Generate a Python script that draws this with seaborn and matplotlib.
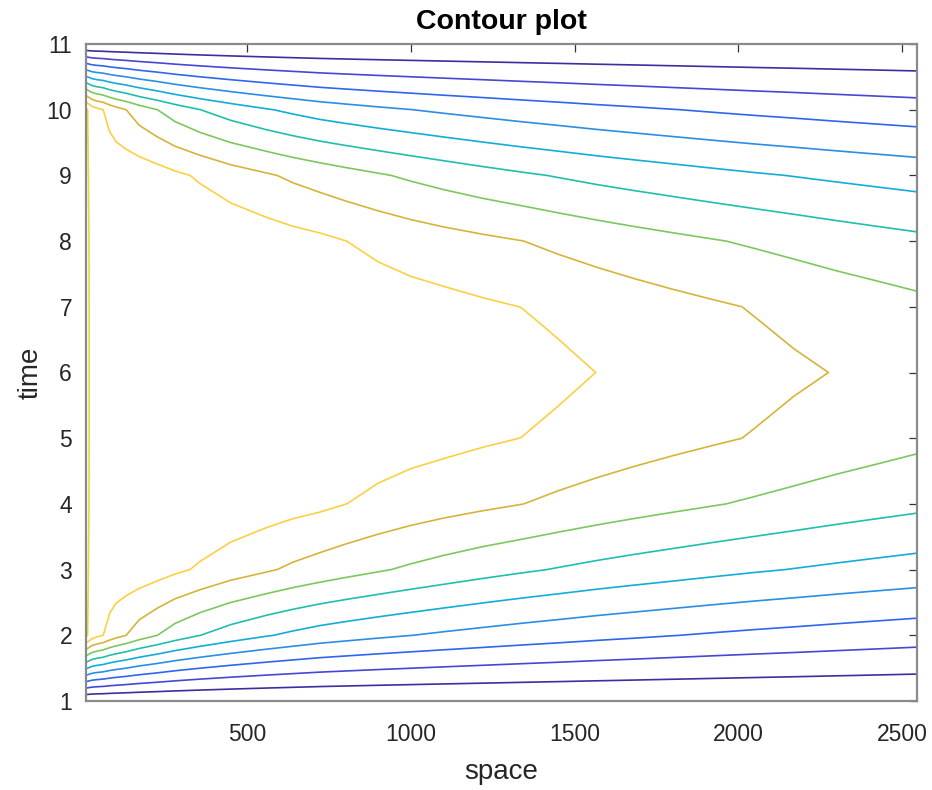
import matplotlib
matplotlib.use("Agg")
import matplotlib.pyplot as plt
import seaborn as sns
import numpy as np

# grid: space nodes (columns) and time nodes (rows)
space = [8, 18, 25, 40, 60, 80, 100, 130, 170, 225, 280, 356, 450, 560, 640, 723,
         800, 900, 1000, 1100, 1220, 1340, 1450, 1570, 1680, 1800, 1920, 2050,
         2170, 2300, 2420, 2546]
time = [1, 2, 3, 4, 5, 6, 7, 8, 9, 10, 11]

# values, one row per time step
u_t01 = [0.0] * 32
u_t02 = [10.2, 9.80, 9.52, 9.24, 9.01, 8.63, 8.34, 8.01, 7.51, 7.01, 6.52, 6.01,
         5.52, 5.07, 4.80, 4.55, 4.38, 4.18, 4.01, 3.85, 3.68, 3.52, 3.39, 3.25,
         3.14, 3.02, 2.91, 2.80, 2.71, 2.61, 2.525, 2.44]
u_t03 = [10.2, 9.93, 9.88, 9.83, 9.78, 9.74, 9.69, 9.66, 9.60, 9.42, 9.18, 8.88,
         8.48, 8.11, 7.83, 7.58, 7.36, 7.10, 6.85, 6.62, 6.36, 6.13, 5.94, 5.74,
         5.58, 5.42, 5.26, 5.10, 4.97, 4.83, 4.71, 4.59]
u_t04 = [10.2, 9.98, 9.97, 9.97, 9.96, 9.96, 9.95, 9.95, 9.94, 9.93, 9.90, 9.85,
         9.72, 9.50, 9.34, 9.20, 9.01, 8.77, 8.56, 8.38, 8.19, 8.01, 7.80, 7.59,
         7.41, 7.23, 7.06, 6.88, 6.71, 6.53, 6.38, 6.23]
u_t05 = [10.2, 9.99, 9.99, 9.98, 9.98, 9.98, 9.97, 9.97, 9.96, 9.95, 9.94, 9.92,
         9.87, 9.80, 9.74, 9.68, 9.60, 9.50, 9.38, 9.28, 9.13, 8.99, 8.80, 8.61,
         8.45, 8.28, 8.12, 7.95, 7.77, 7.57, 7.41, 7.24]
u_t06 = [10.2, 9.99, 9.99, 9.99, 9.99, 9.99, 9.99, 9.98, 9.98, 9.98, 9.98, 9.97,
         9.95, 9.93, 9.90, 9.88, 9.84, 9.80, 9.72, 9.65, 9.53, 9.42, 9.21, 8.99,
         8.81, 8.63, 8.46, 8.28, 8.13, 7.97, 7.83, 7.70]
u_t07 = u_t05
u_t08 = u_t04
u_t09 = u_t03
u_t10 = u_t02
u_t11 = u_t01

levels = [1, 2, 3, 4, 5, 6, 7, 8, 9, 10]
level_colors = ["#3b2f9e", "#4746d6", "#2f66ee", "#2a8ee6", "#12acd9",
                "#1fbfae", "#7cc85e", "#d6b43a", "#fbd044", "#e4dc3c"]

sns.set_theme(style="white")
plt.rcParams["font.family"] = ["Liberation Sans", "DejaVu Sans"]

U = np.array([u_t01, u_t02, u_t03, u_t04, u_t05, u_t06,
              u_t07, u_t08, u_t09, u_t10, u_t11])

fig = plt.figure(figsize=(9.32, 7.90), dpi=100)
ax = fig.add_axes([86 / 932, 89 / 790, 831 / 932, 657 / 790])

ax.contour(space, time, U, levels=levels, colors=level_colors, linewidths=1.2)

ax.set_xlim(8, 2546)
ax.set_ylim(1, 11)
ax.set_xticks([500, 1000, 1500, 2000, 2500])
ax.set_yticks(time)

ax.tick_params(direction="in", top=True, right=True, length=6, width=0.9,
               color="#333333", labelsize=16.5, labelcolor="#262626")
ax.tick_params(axis="x", pad=16)
ax.tick_params(axis="y", pad=10)
for sp in ax.spines.values():
    sp.set_color("#8a8a8a")
    sp.set_linewidth(1.6)

ax.set_title("Contour plot", fontsize=20.5, fontweight="bold", color="black", pad=11)
ax.set_xlabel("space", fontsize=20, color="#262626", labelpad=9)
ax.set_ylabel("time", fontsize=20, color="#262626", labelpad=2)

fig.savefig("out.png", dpi=100)
